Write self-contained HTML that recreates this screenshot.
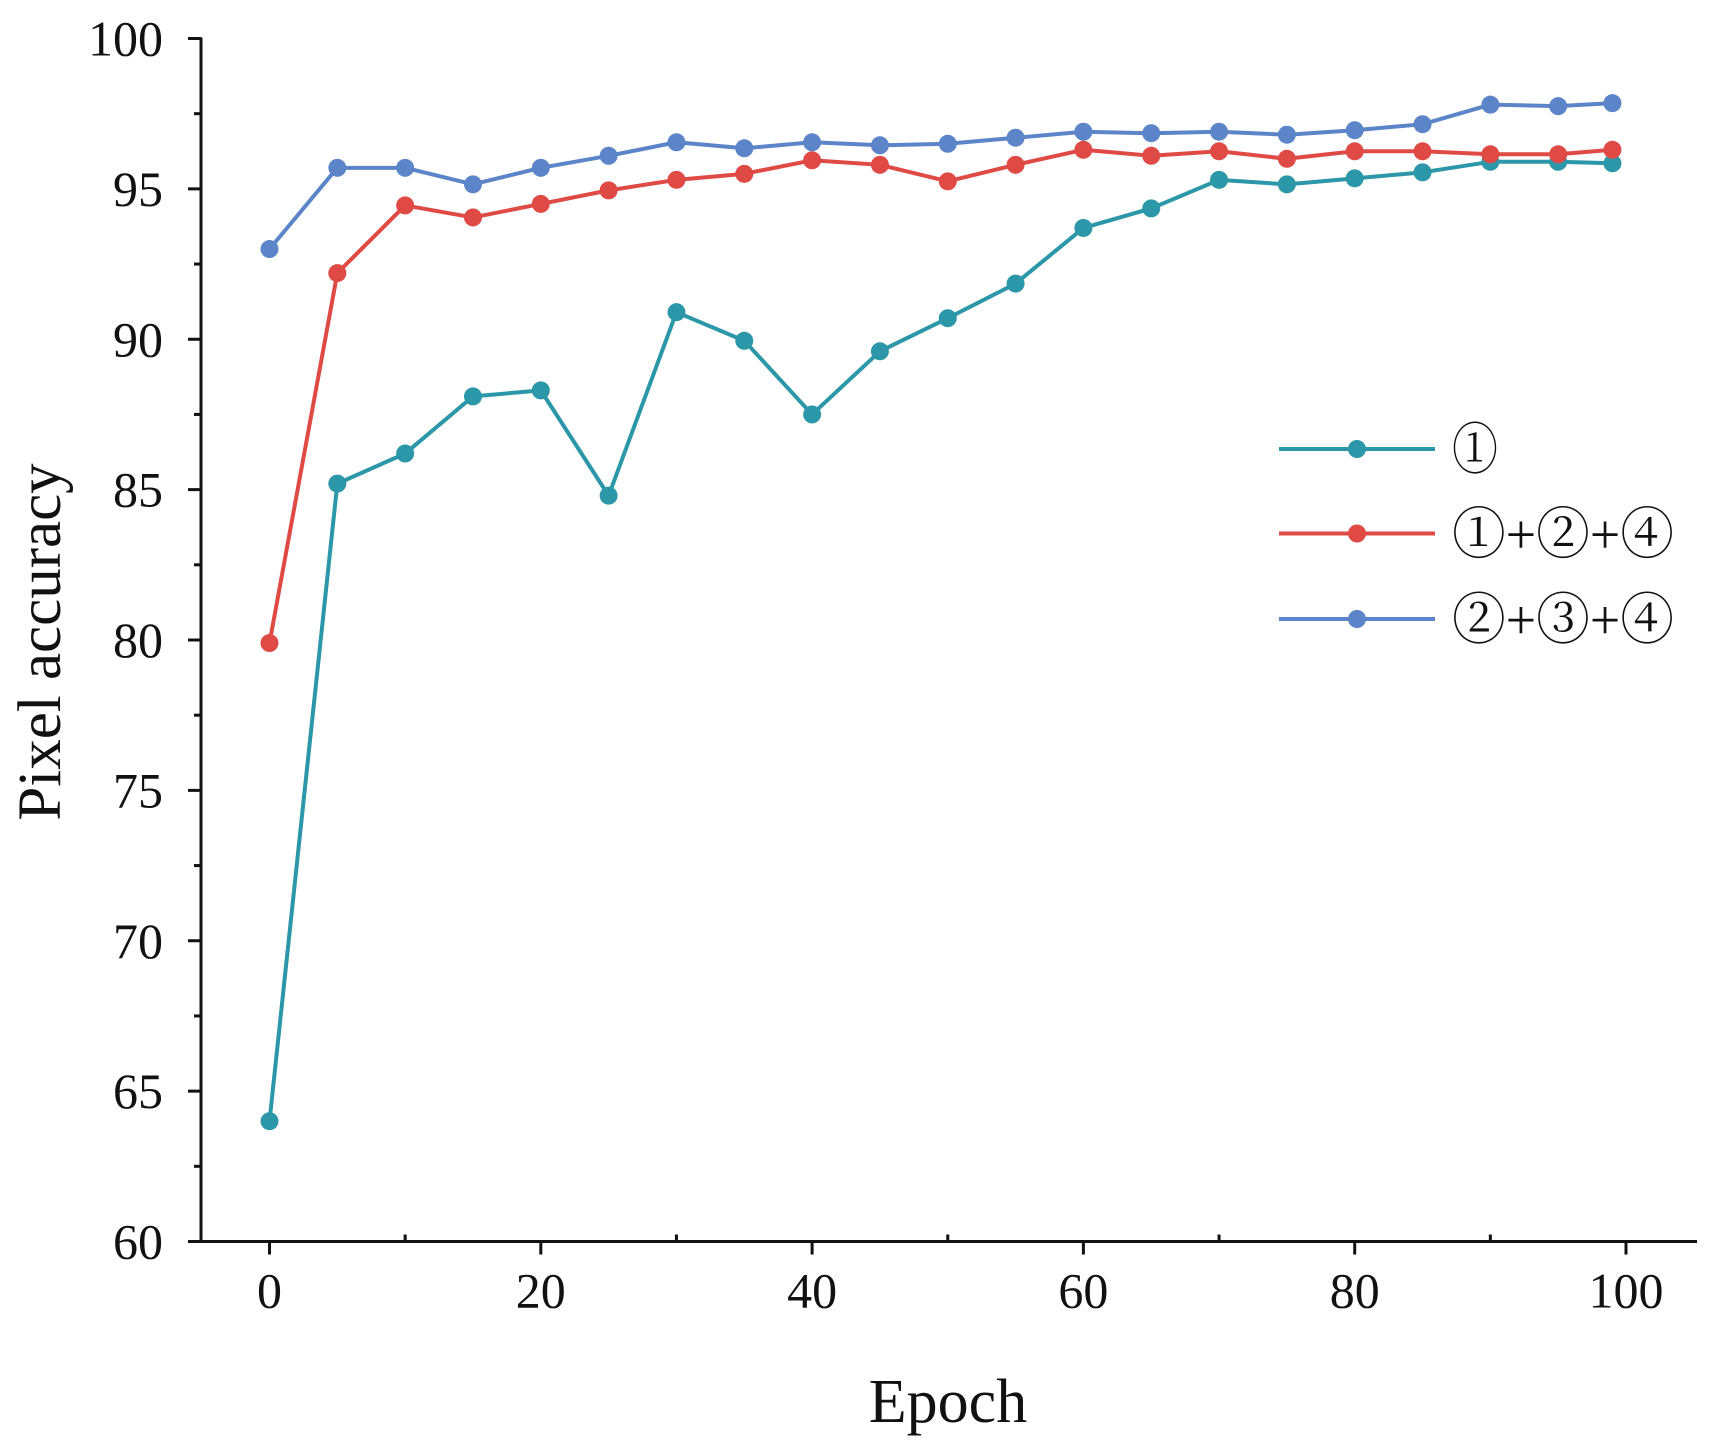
<!DOCTYPE html>
<html><head><meta charset="utf-8"><style>
html,body{margin:0;padding:0;background:#fff;}
svg{display:block;}
text{font-family:"Liberation Serif","Noto Serif CJK SC",serif;fill:#111;}
</style></head><body>
<svg id="chart" width="1717" height="1442" xmlns="http://www.w3.org/2000/svg"></svg>
<script>
const epochs=[0,5,10,15,20,25,30,35,40,45,50,55,60,65,70,75,80,85,90,95,99];
const seriesA=[64.0,85.2,86.2,88.1,88.3,84.8,90.9,89.95,87.5,89.6,90.7,91.85,93.7,94.35,95.3,95.15,95.35,95.55,95.9,95.9,95.85];
const seriesB=[79.9,92.2,94.45,94.05,94.5,94.95,95.3,95.5,95.95,95.8,95.25,95.8,96.3,96.1,96.25,96.0,96.25,96.25,96.15,96.15,96.3];
const seriesC=[93.0,95.7,95.7,95.15,95.7,96.1,96.55,96.35,96.55,96.45,96.5,96.7,96.9,96.85,96.9,96.8,96.95,97.15,97.8,97.75,97.85];
const xTicks=[0,20,40,60,80,100];
const yTicks=[60,65,70,75,80,85,90,95,100];
const seriesNames=["①","①+②+④","②+③+④"];
const seriesColors=["#2b97a8","#e04a45","#5b85c8"];

const NS="http://www.w3.org/2000/svg";
const svg=document.getElementById('chart');
const X0=269.5,X1=1626,Y0=1241.5,Y1=38.5;
const sx=v=>X0+(v-0)/(100-0)*(X1-X0);
const sy=v=>Y0-(v-60)/(100-60)*(Y0-Y1);
function mk(tag,attrs,parent){const e=document.createElementNS(NS,tag);for(const k in attrs)e.setAttribute(k,attrs[k]);(parent||svg).appendChild(e);return e;}

const ax=mk('g',{});


mk('line',{x1:201,y1:Y0,x2:1697,y2:Y0,stroke:'#111','stroke-width':3},ax);
mk('line',{x1:201,y1:Y0+1.5,x2:201,y2:Y1-1,stroke:'#111','stroke-width':3},ax);
yTicks.forEach((v,i)=>{
  mk('line',{x1:188,y1:sy(v),x2:201,y2:sy(v),stroke:'#111','stroke-width':3},ax);
  if(i<yTicks.length-1) mk('line',{x1:194,y1:sy(v+2.5),x2:201,y2:sy(v+2.5),stroke:'#111','stroke-width':3},ax);
  const t=mk('text',{x:163,y:sy(v)+17,'text-anchor':'end','font-size':50},ax);
  t.textContent=v;
  
  
});
xTicks.forEach((v,i)=>{
  mk('line',{x1:sx(v),y1:Y0,x2:sx(v),y2:Y0+13,stroke:'#111','stroke-width':3},ax);
  if(i<xTicks.length-1) mk('line',{x1:sx(v+10),y1:Y0,x2:sx(v+10),y2:Y0-7,stroke:'#111','stroke-width':3},ax);
  const t=mk('text',{x:sx(v),y:Y0+66,'text-anchor':'middle','font-size':50},ax);
  t.textContent=v;
  
  
});
const xt=mk('text',{x:948,y:1422,'text-anchor':'middle','font-size':62});
xt.textContent='Epoch';


const yt=mk('text',{x:0,y:0,'text-anchor':'middle','font-size':61,transform:'translate(60,642) rotate(-90)'});
yt.textContent='Pixel accuracy';



[seriesA,seriesB,seriesC].forEach((vals,si)=>{
  const g=mk('g',{});
  
  
  const pts=vals.map((v,i)=>sx(epochs[i])+','+sy(v)).join(' ');
  mk('polyline',{points:pts,fill:'none',stroke:seriesColors[si],'stroke-width':4,'stroke-linejoin':'round'},g);
  vals.forEach((v,i)=>{
    const c=mk('circle',{cx:sx(epochs[i]),cy:sy(v),r:9,fill:seriesColors[si]},g);
    
    
  });
});

const lg=mk('g',{});


const ly=[449,533.5,619];
seriesNames.forEach((n,i)=>{
  const e=mk('g',{},lg);
  
  
  mk('line',{x1:1279,y1:ly[i],x2:1435,y2:ly[i],stroke:seriesColors[i],'stroke-width':4},e);
  mk('circle',{cx:1357,cy:ly[i],r:9,fill:seriesColors[i]},e);
  const t=mk('text',{x:1452,y:ly[i]+20,'font-size':56,'font-family':'"DejaVu Sans","Noto Sans CJK SC",sans-serif',textLength:n.length>1?222:46,lengthAdjust:'spacingAndGlyphs'},e);
  t.textContent=n;
});
</script>
</body></html>
